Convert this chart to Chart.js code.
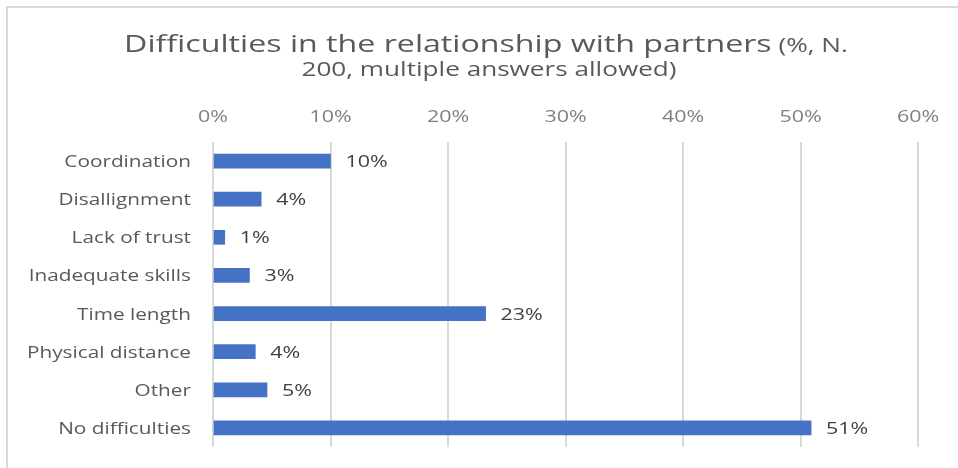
<!DOCTYPE html>
<html>
<head>
<meta charset="utf-8">
<script src="https://cdn.jsdelivr.net/npm/chart.js@4"></script>
<style>
  html, body { margin: 0; padding: 0; background: #fff; }
  #wrap { width: 958px; height: 468px; }
</style>
</head>
<body>
<div id="wrap"><canvas id="chart"></canvas></div>
<script>
// data
const categories = ['Coordination', 'Disallignment', 'Lack of trust', 'Inadequate skills',
                    'Time length', 'Physical distance', 'Other', 'No difficulties'];
const shares = [10.0, 4.1, 1.0, 3.1, 23.2, 3.6, 4.6, 50.9];
const tickValues = [0, 10, 20, 30, 40, 50, 60];

const titleMain = 'Difficulties in the relationship with partners';
const titleNote1 = ' (%, N.';
const titleNote2 = '200, multiple answers allowed)';

// the source picture is stretched sideways, so text is drawn wider than normal
const SX = 1.34;
const FONT = '"Open Sans", sans-serif';

function wideText(ctx, text, x, y, align) {
    const w = ctx.measureText(text).width * SX;
    const left = align === 'center' ? x - w / 2 : align === 'right' ? x - w : x;
    ctx.save();
    ctx.translate(left, y);
    ctx.scale(SX, 1);
    ctx.textAlign = 'left';
    ctx.fillText(text, 0, 0);
    ctx.restore();
    return w;
}

const extras = {
    id: 'extras',
    afterDraw(chart) {
        const ctx = chart.ctx;
        const xs = chart.scales.x;
        const ys = chart.scales.y;
        ctx.save();

        // frame (top and left edges only, the picture is cropped)
        ctx.strokeStyle = '#d9d9d9';
        ctx.lineWidth = 2;
        ctx.beginPath();
        ctx.moveTo(7, 468);
        ctx.lineTo(7, 7);
        ctx.lineTo(958, 7);
        ctx.stroke();

        ctx.textBaseline = 'alphabetic';

        // title
        ctx.fillStyle = '#595959';
        ctx.font = '24px ' + FONT;
        const w1 = ctx.measureText(titleMain).width * SX;
        ctx.font = '19.5px ' + FONT;
        const w2 = ctx.measureText(titleNote1).width * SX;
        const x0 = 486 - (w1 + w2) / 2;
        ctx.font = '24px ' + FONT;
        wideText(ctx, titleMain, x0, 52, 'left');
        ctx.font = '19.5px ' + FONT;
        wideText(ctx, titleNote1, x0 + w1, 52, 'left');
        wideText(ctx, titleNote2, 489, 76, 'center');

        // x tick labels on top
        ctx.font = '16px ' + FONT;
        ctx.fillStyle = '#7f7f7f';
        tickValues.forEach(v => {
            wideText(ctx, v + '%', xs.getPixelForValue(v), 122, 'center');
        });

        // category labels
        ctx.font = '15.5px ' + FONT;
        ctx.fillStyle = '#595959';
        categories.forEach((c, i) => {
            wideText(ctx, c, 191, ys.getPixelForValue(i) + 6, 'right');
        });

        // value labels
        ctx.font = '16px ' + FONT;
        ctx.fillStyle = '#404040';
        chart.getDatasetMeta(0).data.forEach((bar, i) => {
            wideText(ctx, Math.round(shares[i]) + '%', bar.x + 15, bar.y + 6, 'left');
        });
        ctx.restore();
    }
};

new Chart(document.getElementById('chart'), {
    type: 'bar',
    data: {
        labels: categories,
        datasets: [{
            data: shares,
            backgroundColor: '#4472c4',
            barThickness: 14
        }]
    },
    options: {
        indexAxis: 'y',
        responsive: true,
        maintainAspectRatio: false,
        animation: false,
        layout: { padding: { top: 100, right: 40, bottom: 21, left: 0 } },
        plugins: {
            legend: { display: false },
            title: { display: false },
            tooltip: { enabled: false }
        },
        scales: {
            x: {
                position: 'top',
                min: 0,
                max: 60,
                afterBuildTicks: s => { s.ticks = tickValues.map(v => ({ value: v })); },
                afterFit: s => { s.height = 42; },
                grid: { color: '#d9d9d9', lineWidth: 2, drawTicks: false },
                border: { display: false },
                ticks: { display: false }
            },
            y: {
                afterFit: s => { s.width = 213; },
                grid: { display: false, drawTicks: false },
                border: { display: false },
                ticks: { display: false }
            }
        }
    },
    plugins: [extras]
});
</script>
</body>
</html>
